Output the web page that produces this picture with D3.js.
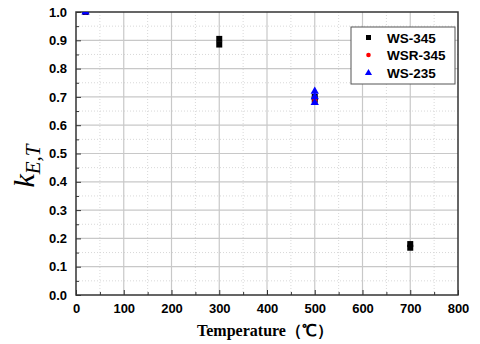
<!DOCTYPE html>
<html><head><meta charset="utf-8">
<script src="https://cdn.jsdelivr.net/npm/d3@7"></script>
<style>body{margin:0;background:#fff}</style>
</head><body>
<svg id="c" width="480" height="344"></svg>
<script>
const seriesNames = ["WS-345","WSR-345","WS-235"];
const ws345 = [[20,1.0],[300,0.905],[300,0.885],[500,0.70],[500,0.69],[700,0.18],[700,0.167]];
const wsr345 = [[20,1.0],[500,0.69],[500,0.68]];
const ws235 = [[20,1.0],[500,0.72],[500,0.70],[500,0.68]];
const xTicks = [0,100,200,300,400,500,600,700,800];
const yTicks = [0,0.1,0.2,0.3,0.4,0.5,0.6,0.7,0.8,0.9,1.0];

const svg = d3.select("#c");
const L=76,R=458,T=12,B=295;
const x = d3.scaleLinear().domain([0,800]).range([L,R]);
const y = d3.scaleLinear().domain([0,1]).range([B,T]);

svg.append("clipPath").attr("id","clip").append("rect").attr("x",L).attr("y",T).attr("width",R-L).attr("height",B-T);

const g = svg.append("g");
const xMinor = d3.range(50,800,100), yMinor = d3.range(0.05,1,0.1);
g.selectAll(".mx").data(xMinor).join("line").attr("x1",d=>x(d)).attr("x2",d=>x(d)).attr("y1",T).attr("y2",B)
 .attr("stroke","#d8d8d8").attr("stroke-width",1).attr("stroke-dasharray","1,2");
g.selectAll(".my").data(yMinor).join("line").attr("y1",d=>y(d)).attr("y2",d=>y(d)).attr("x1",L).attr("x2",R)
 .attr("stroke","#d8d8d8").attr("stroke-width",1).attr("stroke-dasharray","1,2");
g.selectAll(".gx").data(xTicks.slice(1,-1)).join("line").attr("x1",d=>x(d)).attr("x2",d=>x(d)).attr("y1",T).attr("y2",B)
 .attr("stroke","#c8c8c8").attr("stroke-width",1.2);
g.selectAll(".gy").data(yTicks.slice(1,-1)).join("line").attr("y1",d=>y(d)).attr("y2",d=>y(d)).attr("x1",L).attr("x2",R)
 .attr("stroke","#c8c8c8").attr("stroke-width",1.2);

const xAxis = d3.axisBottom(x).tickValues(xTicks).tickSize(-5).tickPadding(9).tickFormat(d3.format("d"));
const yAxis = d3.axisLeft(y).tickValues(yTicks).tickSize(-5).tickPadding(9).tickFormat(d3.format(".1f"));
const gx = svg.append("g").attr("transform",`translate(0,${B})`).call(xAxis);
const gy = svg.append("g").attr("transform",`translate(${L},0)`).call(yAxis);
svg.append("g").attr("transform",`translate(0,${B})`).call(d3.axisBottom(x).tickValues(xMinor).tickSize(-3).tickFormat(""));
svg.append("g").attr("transform",`translate(${L},0)`).call(d3.axisLeft(y).tickValues(yMinor).tickSize(-3).tickFormat(""));
svg.selectAll(".domain").remove();
svg.selectAll(".tick line").attr("stroke","#333").attr("stroke-width",1);
[gx,gy].forEach(a=>a.selectAll("text").attr("font-family","Liberation Sans, Arial").attr("font-weight","bold").attr("font-size",13).attr("fill","#000"));
gx.selectAll("text").attr("dy","0.71em");

svg.append("rect").attr("x",L).attr("y",T).attr("width",R-L).attr("height",B-T).attr("fill","none").attr("stroke","#333").attr("stroke-width",1.5);

const pts = svg.append("g").attr("clip-path","url(#clip)");
pts.selectAll(".s").data(ws345).join("rect").attr("x",d=>x(d[0])-3).attr("y",d=>y(d[1])-3).attr("width",6).attr("height",6).attr("fill","#000");
pts.selectAll(".r").data(wsr345).join("circle").attr("cx",d=>x(d[0])).attr("cy",d=>y(d[1])).attr("r",2.5).attr("fill","#ff0000");
const tri = d3.symbol().type(d3.symbolTriangle).size(30);
pts.selectAll(".t").data(ws235).join("path").attr("d",tri).attr("transform",d=>`translate(${x(d[0])},${y(d[1])})`).attr("fill","#0000ff");

const lg = svg.append("g");
lg.append("rect").attr("x",351).attr("y",27).attr("width",104).attr("height",57).attr("fill","#fff").attr("stroke","#555").attr("stroke-width",1);
const ly = [38,55,73];
lg.append("rect").attr("x",366).attr("y",ly[0]-3).attr("width",5).attr("height",5).attr("fill","#000");
lg.append("circle").attr("cx",368.5).attr("cy",ly[1]).attr("r",2.3).attr("fill","#ff0000");
lg.append("path").attr("d",d3.symbol().type(d3.symbolTriangle).size(22)).attr("transform",`translate(368.5,${ly[2]})`).attr("fill","#0000ff");
lg.selectAll(".lt").data(seriesNames).join("text").attr("x",387).attr("y",(d,i)=>ly[i]).attr("dy","0.36em")
 .attr("font-family","Liberation Sans, Arial").attr("font-weight","bold").attr("font-size",13.5).text(d=>d);

svg.append("text").attr("x",265).attr("y",336).attr("text-anchor","middle").attr("font-family","Liberation Serif, Times New Roman")
 .attr("font-weight","bold").attr("font-size",16).text("Temperature（℃）");
const yl = svg.append("text").attr("transform","translate(34,166) rotate(-90)").attr("text-anchor","middle")
 .attr("font-family","Liberation Serif, Times New Roman").attr("font-style","italic").attr("font-size",30);
yl.append("tspan").text("k");
yl.append("tspan").attr("font-size",21).attr("dy",6).text("E,T");
</script>
</body></html>
